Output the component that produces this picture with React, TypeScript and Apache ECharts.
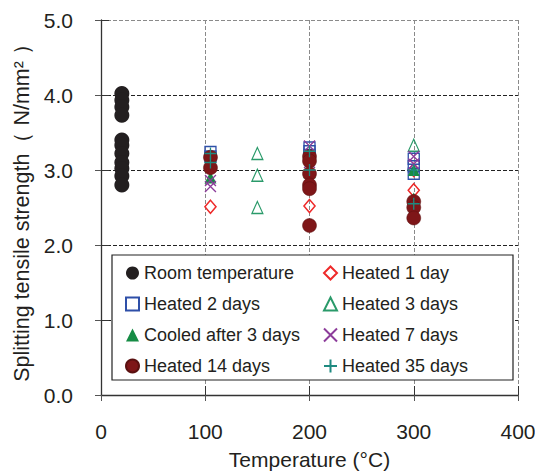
import React, { useEffect, useRef } from "react";
import * as echarts from "echarts";

// ---- data (temperature °C, splitting tensile strength N/mm²) ----
const seriesNames = [
  "Room temperature",
  "Heated 1 day",
  "Heated 2 days",
  "Heated 3 days",
  "Cooled after 3 days",
  "Heated 7 days",
  "Heated 14 days",
  "Heated 35 days",
];

const roomTemperature: number[][] = [
  [20, 4.02], [20, 3.93], [20, 3.84], [20, 3.73], [20, 3.4], [20, 3.33],
  [20, 3.22], [20, 3.1], [20, 3.02], [20, 2.92], [20, 2.8],
];
const heated1Day: number[][] = [
  [105, 2.51], [200, 2.52], [300, 2.73], [300, 3.0],
];
const heated2Days: number[][] = [
  [105, 3.24], [105, 3.18], [200, 3.3], [200, 3.25], [200, 3.2],
  [300, 3.15], [300, 3.05], [300, 2.95],
];
const heated3Days: number[][] = [
  [150, 3.22], [150, 2.93], [150, 2.5], [200, 2.98], [300, 3.33],
];
const cooledAfter3Days: number[][] = [
  [105, 2.9], [200, 3.0], [200, 2.8], [300, 3.0], [300, 2.62],
];
const heated7Days: number[][] = [
  [105, 2.86], [105, 2.78], [200, 3.32], [200, 3.1], [300, 3.18], [300, 3.08],
];
const heated14Days: number[][] = [
  [105, 3.17], [105, 3.03], [200, 3.18], [200, 3.12], [200, 2.95],
  [200, 2.8], [200, 2.75], [200, 2.26], [300, 2.58], [300, 2.5], [300, 2.36],
];
const heated35Days: number[][] = [
  [105, 3.22], [105, 3.1], [200, 3.25], [200, 3.0], [300, 3.0], [300, 2.55],
];

const xMin = 0, xMax = 400, xStep = 100;
const yMin = 0, yMax = 5, yStep = 1;

const FONT = "Liberation Sans, Arial, sans-serif";
const TXT = "#231f20";

const X_PATH = "path://M0,0L10,10M10,0L0,10";
const PLUS_PATH = "path://M5,0L5,10M0,5L10,5";

export default function App() {
  const ref = useRef<HTMLDivElement>(null);
  useEffect(() => {
    document.body.style.margin = "0";
    const chart = echarts.init(ref.current!, null, { renderer: "svg" });
    const hollow = "rgba(0,0,0,0)";
    const series: any[] = [
      {
        name: seriesNames[0], data: roomTemperature, symbol: "circle", symbolSize: 15,
        itemStyle: { color: TXT },
      },
      {
        name: seriesNames[1], data: heated1Day, symbol: "diamond", symbolSize: [11, 13],
        itemStyle: { color: hollow, borderColor: "#ee2a2a", borderWidth: 1.6 },
      },
      {
        name: seriesNames[2], data: heated2Days, symbol: "rect", symbolSize: 11,
        itemStyle: { color: hollow, borderColor: "#2e4fa8", borderWidth: 1.3 },
      },
      {
        name: seriesNames[3], data: heated3Days, symbol: "triangle", symbolSize: [11, 12],
        itemStyle: { color: hollow, borderColor: "#2a9a6a", borderWidth: 1.2 },
      },
      {
        name: seriesNames[4], data: cooledAfter3Days, symbol: "triangle", symbolSize: [12, 12],
        itemStyle: { color: "#168c45" },
      },
      {
        name: seriesNames[5], data: heated7Days, symbol: X_PATH, symbolSize: 11,
        itemStyle: { color: hollow, borderColor: "#8c3c9a", borderWidth: 1.3 },
      },
      {
        name: seriesNames[6], data: heated14Days, symbol: "circle", symbolSize: 14,
        itemStyle: { color: "#7e1618", borderColor: "#5a1010", borderWidth: 0.5 },
      },
      {
        name: seriesNames[7], data: heated35Days, symbol: PLUS_PATH, symbolSize: 12,
        itemStyle: { color: hollow, borderColor: "#1e8a80", borderWidth: 1.3 },
      },
    ].map((s) => ({
      ...s,
      type: "scatter",
      z: 3,
      itemStyle: { ...s.itemStyle, opacity: 1 },
    }));

    const legendCommon = {
      orient: "vertical",
      selectedMode: false,
      itemWidth: 13,
      itemHeight: 13,
      itemGap: 13,
      z: 10,
      textStyle: { fontFamily: FONT, fontSize: 18, color: TXT, lineHeight: 17 },
    };

    chart.setOption({
      animation: false,
      textStyle: { fontFamily: FONT },
      grid: { left: 101, right: 17, top: 20, bottom: 77, outerBoundsMode: "none" },
      xAxis: [
        {
          type: "value", min: xMin, max: xMax, interval: xStep,
          name: "Temperature (°C)", nameLocation: "middle", nameGap: 54,
          nameTextStyle: { fontFamily: FONT, fontSize: 21, color: TXT },
          axisLine: { show: true, onZero: false, lineStyle: { color: "#333", width: 1.3 } },
          axisTick: { show: true, inside: true, length: 9, lineStyle: { color: "#333", width: 1 } },
          axisLabel: { fontFamily: FONT, fontSize: 21, color: TXT, margin: 26 },
          splitLine: { show: true, lineStyle: { color: "#8a8a8a", type: [4, 2], width: 1 } },
        },
        {
          type: "value", position: "top", min: xMin, max: xMax, interval: xStep,
          axisLine: { show: false },
          axisTick: { show: true, inside: true, length: 6, lineStyle: { color: "#555" } },
          axisLabel: { show: false },
          splitLine: { show: false },
        },
      ],
      yAxis: [
        {
          type: "value", min: yMin, max: yMax, interval: yStep,
          name: "Splitting tensile strength（ N/mm² ）", nameLocation: "middle", nameGap: 64,
          nameTextStyle: { fontFamily: FONT, fontSize: 21.5, color: TXT },
          axisLine: { show: true, onZero: false, lineStyle: { color: "#333", width: 1.3 } },
          axisTick: { show: true, inside: true, length: 8, lineStyle: { color: "#333" } },
          axisLabel: {
            fontFamily: FONT, fontSize: 21, color: TXT, margin: 28,
            formatter: (v: number) => v.toFixed(1),
          },
          splitLine: {
            show: true,
            lineStyle: {
              color: ["#222", "#222", "#222", "#222", "#222", "#8a8a8a"],
              type: [4, 2], width: 1,
            },
          },
        },
        {
          type: "value", position: "right", min: yMin, max: yMax, interval: yStep,
          axisLine: { show: false },
          axisTick: { show: true, inside: true, length: 6, lineStyle: { color: "#555" } },
          axisLabel: { show: false },
          splitLine: { show: false },
        },
      ],
      legend: [
        { ...legendCommon, left: 120, top: 259, data: seriesNames.filter((_, i) => i % 2 === 0) },
        { ...legendCommon, left: 318, top: 259, data: seriesNames.filter((_, i) => i % 2 === 1) },
      ],
      graphic: [
        {
          type: "rect", z: 5,
          shape: { x: 112, y: 255, width: 401, height: 125 },
          style: { fill: "#fff", stroke: "#222", lineWidth: 1.2 },
        },
      ],
      series,
    });
    return () => chart.dispose();
  }, []);
  return <div ref={ref} style={{ width: 535, height: 472 }} />;
}
